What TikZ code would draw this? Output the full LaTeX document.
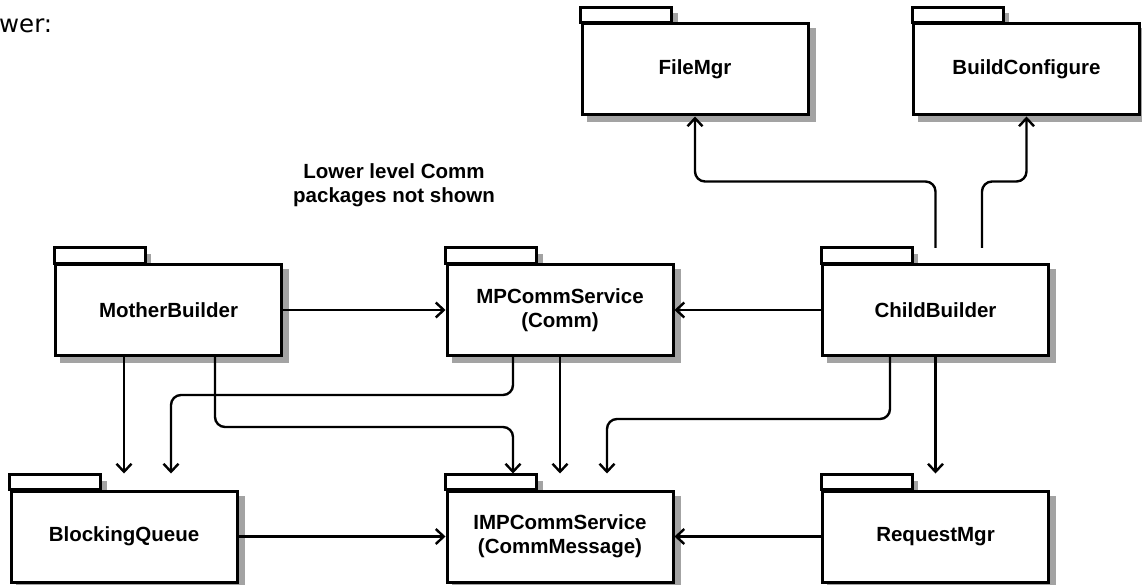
\documentclass[tikz,border=0pt]{standalone}
\usepackage{fontspec}
\setmainfont{Liberation Sans}
\newfontfamily\leadfont{DejaVu Sans}
\usetikzlibrary{arrows.meta}
\pgfdeclarelayer{background}
\pgfsetlayers{background,main}

\begin{document}
\begin{tikzpicture}[
    x=1pt, y=1pt,
    package/.style={rectangle, draw=black, line width=3pt, fill=white,
      minimum width=226pt, minimum height=91pt, align=center,
      font=\bfseries\fontsize{20.5}{24}\selectfont},
    tab/.style={draw=black, line width=3pt, fill=white},
    shade/.style={fill=black!36},
    link/.style={-{Straight Barb[length=8pt, width=15pt]}, line width=2.4pt, rounded corners=10pt}
  ]
    \useasboundingbox (0,0) rectangle (1142,-585);

    % Leftover caption text
    \node[anchor=base west, inner sep=0pt, font=\leadfont\fontsize{24.5}{28}\selectfont] (lead) at (-1,-33) {wer:};

    % Tools
    \node[package] (fm) at (695,-69.5) {FileMgr};
    \node[package] (bc) at (1026.5,-69.5) {BuildConfigure};

    % Builders and comm service
    \node[package] (mb) at (168.5,-310) {MotherBuilder};
    \node[package] (mpc) at (560,-310) {MPCommService\\(Comm)};
    \node[package] (cb) at (935.5,-310) {ChildBuilder};

    % Lower packages
    \node[package] (bq) at (124,-536.5) {BlockingQueue};
    \node[package] (imp) at (560,-536.5) {IMPCommService\\(CommMessage)};
    \node[package] (rm) at (935.5,-536.5) {RequestMgr};

    % Note
    \node[align=center, font=\bfseries\fontsize{20.5}{24}\selectfont] (note) at (394,-185) {Lower level Comm\\packages not shown};

    % Shadows and tabs behind the packages
    \begin{pgfonlayer}{background}
      \foreach \p in {fm,bc,mb,mpc,cb,bq,imp,rm} {
        \fill[shade] ([shift={(6,-6)}]\p.south west) rectangle ([shift={(6,-6)}]\p.north east);
        \fill[shade] ([shift={(6,-6)}]\p.north west) rectangle ++(91,15);
      }
      \foreach \p in {fm,bc,mb,mpc,cb,bq,imp,rm}
        \draw[tab] (\p.north west) rectangle ++(91,15);
    \end{pgfonlayer}

    % Dependencies
    \draw[link] ([yshift=15pt]cb.north) -- ++(0,66.5) -| (fm.south);
    \draw[link] ([xshift=46.5pt,yshift=15pt]cb.north) -- ++(0,66.5) -| (bc.south);
    \draw[link] (mb) -- (mpc);
    \draw[link] (cb) -- (mpc);
    \draw[link] (mb.south -| bq.north) -- ([yshift=16pt]bq.north);
    \draw[link] ([xshift=46.5pt]mb.south) -- ++(0,-70) -| ([xshift=-47pt,yshift=16pt]imp.north);
    \draw[link] ([xshift=-47pt]mpc.south) -- ++(0,-38) -| ([xshift=47pt,yshift=16pt]bq.north);
    \draw[link] (mpc.south) -- ([yshift=16pt]imp.north);
    \draw[link] ([xshift=-45.5pt]cb.south) -- ++(0,-62) -| ([xshift=47pt,yshift=16pt]imp.north);
    \draw[link] (cb.south) -- ([yshift=16pt]rm.north);
    \draw[link] (bq) -- (imp);
    \draw[link] (rm) -- (imp);
  \end{tikzpicture}
\end{document}
